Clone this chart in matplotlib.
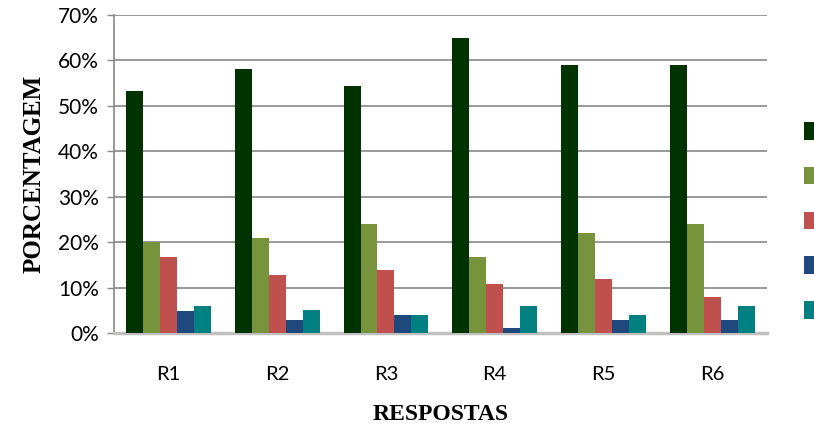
import matplotlib
matplotlib.use("Agg")
import matplotlib.pyplot as plt
from matplotlib.patches import Patch
import numpy as np

# data (percent)
categorias = ["R1", "R2", "R3", "R4", "R5", "R6"]
serie1 = [53.3, 58.2, 54.3, 65.0, 59.1, 59.1]
serie2 = [20.0, 21.0, 24.0, 16.7, 22.0, 24.0]
serie3 = [16.7, 12.7, 13.8, 10.8, 11.8, 8.0]
serie4 = [4.8, 2.9, 4.0, 1.0, 2.9, 2.9]
serie5 = [6.0, 5.0, 4.0, 6.0, 4.0, 6.0]
series = [serie1, serie2, serie3, serie4, serie5]
cores = ["#003300", "#77933c", "#c0504d", "#1f497d", "#008080"]

plt.rcParams['font.family'] = ['Lato', 'DejaVu Sans']

fig = plt.figure(figsize=(8.14, 4.30), dpi=100)
ax = fig.add_axes([0.14, 0.2256, 0.802, 0.7394])

x = np.arange(len(categorias))
w = 0.156
for i, (vals, c) in enumerate(zip(series, cores)):
    ax.bar(x + (i - 2) * w, vals, width=w, color=c, zorder=3)

ax.set_xlim(-0.5, len(categorias) - 0.5)
ax.set_ylim(0, 70)
ax.set_yticks(np.arange(0, 71, 10))
ax.set_yticklabels([f"{v}%" for v in range(0, 71, 10)], fontsize=15)
ax.set_xticks(x)
ax.set_xticklabels(categorias, fontsize=14.5)
ax.tick_params(axis='x', length=0, pad=24)
ax.tick_params(axis='y', length=5, width=1, color="#888888", pad=6)

ax.grid(axis='y', color="#888888", linewidth=1.2, zorder=0)
for s in ["top", "right"]:
    ax.spines[s].set_visible(False)
ax.spines["left"].set_color("#888888")
ax.spines["left"].set_linewidth(1.2)
ax.spines["bottom"].set_color("#c0c0c0")
ax.spines["bottom"].set_linewidth(2.5)

ax.set_ylabel("PORCENTAGEM", family="Liberation Serif", fontweight="bold",
              fontsize=18, labelpad=9)
ax.set_xlabel("RESPOSTAS", family="Liberation Serif", fontweight="bold",
              fontsize=17, labelpad=15)

handles = [Patch(facecolor=c) for c in cores]
fig.legend(handles, [""] * 5, loc="upper left", bbox_to_anchor=(0.981, 0.73),
           frameon=False, handlelength=1.0, handleheight=1.6,
           labelspacing=1.95, borderaxespad=0, handletextpad=0.3)

fig.savefig("out.png", dpi=100)
